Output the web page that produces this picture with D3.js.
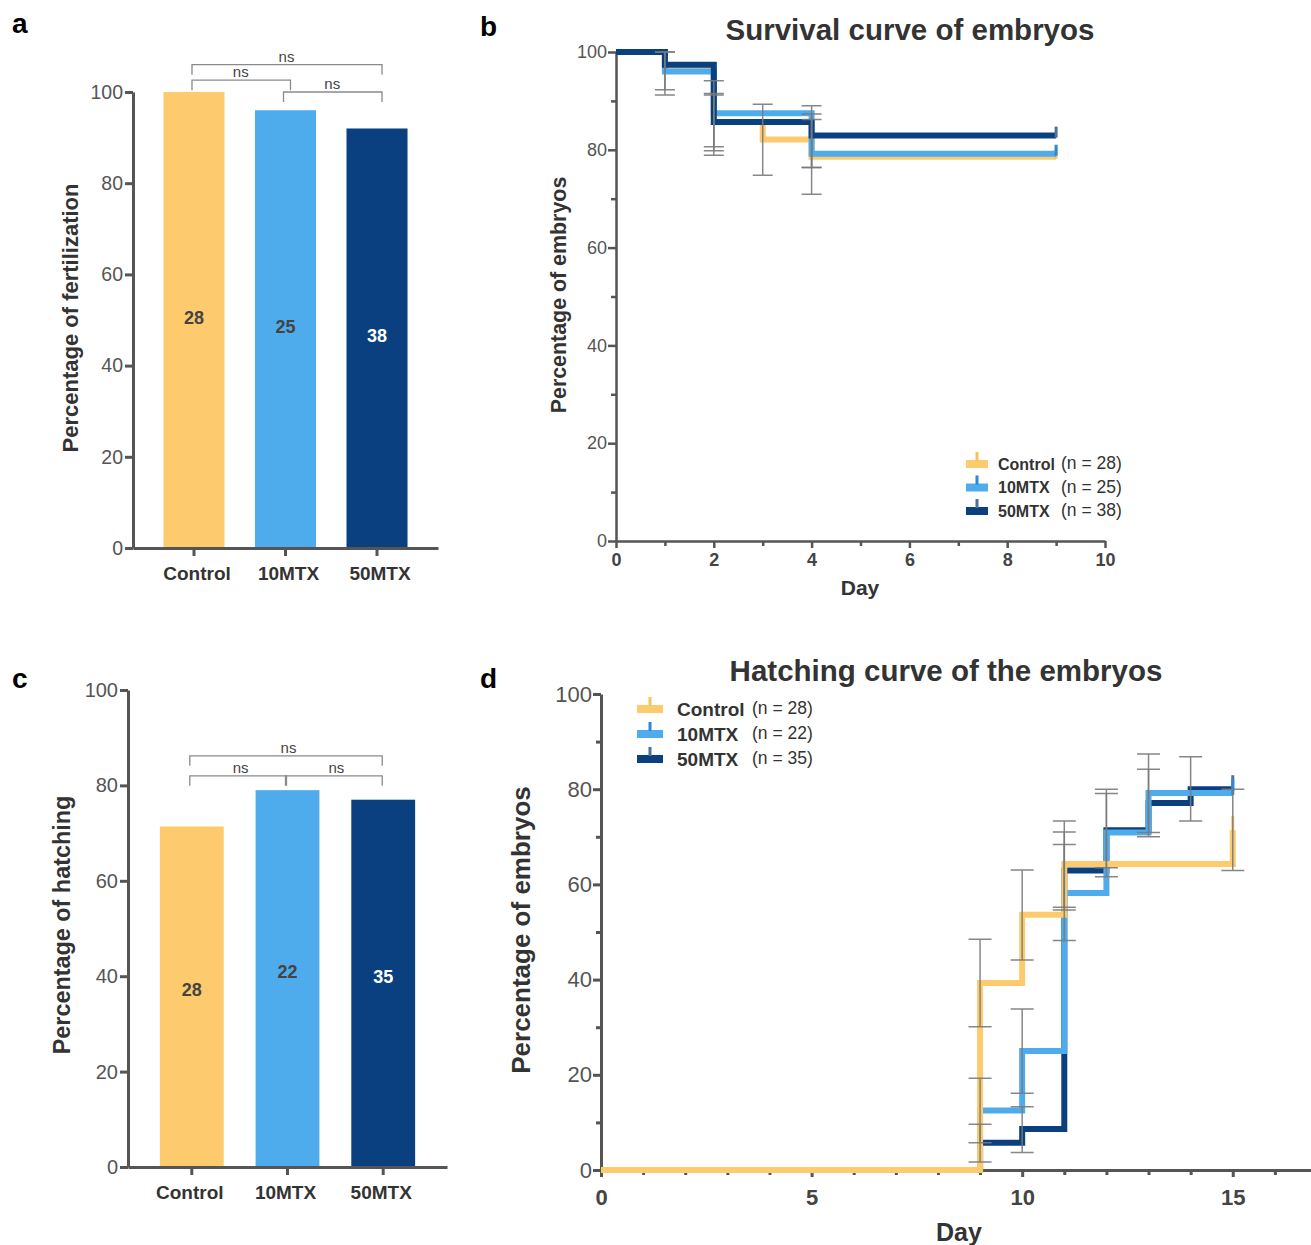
<!DOCTYPE html>
<html>
<head>
<meta charset="utf-8">
<title>Fertilization, survival and hatching of embryos</title>
<script src="https://cdn.jsdelivr.net/npm/d3@7"></script>
<style>
  body { margin: 0; background: #fff; }
  svg { font-family: "Liberation Sans", Arial, sans-serif; }
</style>
</head>
<body>
<svg width="1311" height="1245"></svg>

<script>
    const svg = d3.select("svg");

    // groups and colours
    const groups = ["Control", "10MTX", "50MTX"];
    const groupColors = ["#fdcb6e", "#4eabec", "#0a4080"];
    const censorColors = ["#f7c35f", "#2f86dc", "#4d719d"];

    // panel a: fertilization
    const fertPct = [100, 96, 92];
    const fertN = [28, 25, 38];
    const fertPairs = [[0, 2, 106, "ns"], [0, 1, 102.6, "ns"], [1, 2, 100, "ns"]];

    // panel c: hatching
    const hatchPct = [71.4, 79, 77];
    const hatchN = [28, 22, 35];
    const hatchPairs = [[0, 2, 86.2, "ns"], [0, 1, 82, "ns"], [1, 2, 82, "ns"]];

    // panel b: survival (day, percent)
    const survN = [28, 25, 38];
    const survControl = [[0, 100], [1, 96.4], [2, 85.7], [3, 82.1], [4, 78.6], [9, 78.6]];
    const surv10 = [[0, 100], [1, 96], [2, 87.5], [4, 79.2], [9, 79.2]];
    const surv50 = [[0, 100], [1, 97.4], [2, 85.7], [4, 82.9], [9, 82.9]];
    const survErr = [
        [1, 92.3, 100], [1, 91.2, 100],
        [2, 80.6, 94.1], [2, 79.8, 91.2], [2, 78.9, 91.5],
        [3, 74.8, 89.3],
        [4, 76.4, 89.0], [4, 70.9, 87.3], [4, 76.4, 86.2]
    ];

    // panel d: hatching curve (day, percent)
    const hatchCurveN = [28, 22, 35];
    const hatchControl = [[0, 0], [9, 39.3], [10, 53.6], [11, 64.3], [15, 71.4]];
    const hatch10 = [[0, 0], [9, 12.5], [10, 25], [11, 58.2], [12, 70.9], [13, 79.2], [15, 79.2]];
    const hatch50 = [[0, 0], [9, 5.7], [10, 8.6], [11, 62.9], [12, 71.4], [13, 77.1], [14, 80], [15, 80]];
    const hatchErr = [
        [9, 30.1, 48.5], [9, 5.7, 19.3], [9, 1.7, 9.6],
        [10, 44.1, 63.0], [10, 16.1, 33.8], [10, 3.7, 13.3],
        [11, 55.2, 73.3], [11, 54.6, 71.0], [11, 48.2, 68.4],
        [12, 61.6, 80.0], [12, 63.5, 79.1],
        [13, 70.9, 87.4], [13, 70.0, 84.2],
        [14, 73.3, 86.8],
        [15, 62.9, 80.0]
    ];

    const yTicks = [0, 20, 40, 60, 80, 100];
    const yMinor = [10, 30, 50, 70, 90];

    function panelLetter(txt, x, y) {
        svg.append("text").attr("x", x).attr("y", y).text(txt)
            .attr("font-size", "28px").attr("font-weight", "bold").attr("fill", "#000");
    }

    function styleAxis(g, width, color) {
        g.select(".domain").attr("stroke", color).attr("stroke-width", width);
        g.selectAll(".tick line").attr("stroke", color).attr("stroke-width", width);
    }

    // ---------- bar panels ----------
    function barPanel(cfg) {
        const x = d3.scaleBand().domain(groups).range(cfg.xRange)
            .paddingInner(0.333).paddingOuter(0.333);
        const y = d3.scaleLinear().domain([0, 100]).range(cfg.yRange);
        const g = svg.append("g");

        g.selectAll(".bar").data(cfg.values).enter().append("rect")
            .attr("x", (d, i) => x(groups[i]))
            .attr("y", d => y(d))
            .attr("width", x.bandwidth())
            .attr("height", d => y(0) - y(d))
            .attr("fill", (d, i) => groupColors[i]);

        g.selectAll(".nlab").data(cfg.values).enter().append("text")
            .attr("x", (d, i) => x(groups[i]) + x.bandwidth() / 2)
            .attr("y", d => y(d / 2 + cfg.nShift))
            .attr("dy", "0.35em")
            .attr("text-anchor", "middle")
            .attr("font-size", "18px").attr("font-weight", "bold")
            .attr("fill", (d, i) => i === 2 ? "#fff" : "#444")
            .text((d, i) => cfg.n[i]);

        const ya = g.append("g").attr("transform", `translate(${cfg.xRange[0]},0)`)
            .call(d3.axisLeft(y).tickValues(yTicks).tickSize(8).tickSizeOuter(0).tickPadding(2));
        styleAxis(ya, 3, "#555");
        ya.selectAll("text").attr("font-size", cfg.yFont).attr("fill", "#555");

        const xa = g.append("g").attr("transform", `translate(0,${cfg.yRange[0]})`)
            .call(d3.axisBottom(x).tickSize(8).tickSizeOuter(0).tickPadding(11));
        styleAxis(xa, 3, "#555");
        xa.selectAll("text").attr("font-size", "19px").attr("font-weight", "bold")
            .attr("fill", "#333").attr("dx", cfg.xdx);

        // significance brackets
        const cx = i => x(groups[i]) + x.bandwidth() / 2;
        cfg.pairs.forEach(p => {
            const yy = y(p[2]);
            g.append("path")
                .attr("d", `M${cx(p[0]) + cfg.bl},${yy + 10}V${yy}H${cx(p[1]) + cfg.br}V${yy + 10}`)
                .attr("fill", "none").attr("stroke", "#8a8a8a").attr("stroke-width", 1.3);
            g.append("text").attr("x", (cx(p[0]) + cx(p[1])) / 2 + 1).attr("y", yy - 3)
                .attr("text-anchor", "middle").attr("font-size", "15px").attr("fill", "#444")
                .text(p[3]);
        });

        g.append("text")
            .attr("transform", `translate(${cfg.labelX},${cfg.labelY}) rotate(-90)`)
            .attr("text-anchor", "middle").attr("font-size", cfg.labelFont).attr("font-weight", "bold")
            .attr("fill", "#333").text(cfg.label);
    }

    // ---------- step curve panels ----------
    function kmPanel(cfg) {
        const x = d3.scaleLinear().domain(cfg.xDomain).range(cfg.xRange);
        const y = d3.scaleLinear().domain([0, 100]).range(cfg.yRange);
        const g = svg.append("g");

        const ya = g.append("g").attr("transform", `translate(${cfg.xRange[0]},0)`)
            .call(d3.axisLeft(y).tickValues(yTicks).tickSize(8).tickSizeOuter(0).tickPadding(1));
        styleAxis(ya, cfg.axisW, "#555");
        ya.selectAll("text").attr("font-size", cfg.yFont).attr("fill", "#555");
        const ym = g.append("g").attr("transform", `translate(${cfg.xRange[0]},0)`)
            .call(d3.axisLeft(y).tickValues(yMinor).tickSize(5).tickFormat(""));
        ym.select(".domain").remove();
        ym.selectAll(".tick line").attr("stroke", "#555").attr("stroke-width", cfg.axisW);

        const xa = g.append("g").attr("transform", `translate(0,${cfg.yRange[0]})`)
            .call(d3.axisBottom(x).tickValues(cfg.xTicks).tickSize(7).tickSizeOuter(0).tickPadding(cfg.xPad));
        styleAxis(xa, cfg.axisW, "#555");
        xa.selectAll("text").attr("font-size", cfg.xFont).attr("font-weight", "bold").attr("fill", "#444");
        const xm = g.append("g").attr("transform", `translate(0,${cfg.yRange[0]})`)
            .call(d3.axisBottom(x).tickValues(cfg.xMinor).tickSize(5).tickFormat(""));
        xm.select(".domain").remove();
        xm.selectAll(".tick line").attr("stroke", "#555").attr("stroke-width", cfg.axisW);

        const line = d3.line().x(d => x(d[0])).y(d => y(d[1])).curve(d3.curveStepAfter);
        cfg.order.forEach(i => {
            const pts = cfg.series[i];
            g.append("path").attr("d", line(pts))
                .attr("fill", "none").attr("stroke", groupColors[i])
                .attr("stroke-width", 6).attr("stroke-linejoin", "miter");
            const last = pts[pts.length - 1];
            g.append("line")
                .attr("x1", x(last[0])).attr("x2", x(last[0]))
                .attr("y1", y(last[1]) + 2).attr("y2", y(last[1]) - cfg.censorH)
                .attr("stroke", censorColors[i]).attr("stroke-width", 3);
        });

        // error bars
        const cap = cfg.capW / 2;
        cfg.errors.forEach(e => {
            const ex = x(e[0]);
            g.append("path")
                .attr("d", `M${ex},${y(e[1])}V${y(e[2])}M${ex - cap},${y(e[1])}H${ex + cap}M${ex - cap},${y(e[2])}H${ex + cap}`)
                .attr("fill", "none").attr("stroke", "#7a7a7a").attr("stroke-width", 1.5)
                .attr("opacity", 0.9);
        });

        // legend
        groups.forEach((name, i) => {
            const ly = cfg.legend.y + i * cfg.legend.dy;
            const lx = cfg.legend.x;
            g.append("rect").attr("x", lx).attr("y", ly - 4).attr("width", cfg.legend.w).attr("height", 8)
                .attr("fill", groupColors[i]);
            g.append("rect").attr("x", lx + cfg.legend.w / 2 - 1.5).attr("y", ly - 12)
                .attr("width", 3).attr("height", 9).attr("fill", censorColors[i]);
            g.append("text").attr("x", lx + cfg.legend.w + cfg.legend.gap).attr("y", ly).attr("dy", "0.35em")
                .attr("font-size", cfg.legend.font).attr("font-weight", "bold").attr("fill", "#333")
                .text(name);
            g.append("text").attr("x", cfg.legend.nx).attr("y", ly - 1).attr("dy", "0.35em")
                .attr("font-size", cfg.legend.nFont).attr("fill", "#333")
                .text(`(n = ${cfg.n[i]})`);
        });

        g.append("text").attr("x", cfg.title.x).attr("y", cfg.title.y)
            .attr("text-anchor", "middle").attr("font-size", "29.5px").attr("font-weight", "bold")
            .attr("fill", "#333").text(cfg.title.text);

        g.append("text")
            .attr("transform", `translate(${cfg.labelX},${cfg.labelY}) rotate(-90)`)
            .attr("text-anchor", "middle").attr("font-size", cfg.labelFont).attr("font-weight", "bold")
            .attr("fill", "#333").text("Percentage of embryos");

        g.append("text").attr("x", cfg.dayX).attr("y", cfg.dayY)
            .attr("text-anchor", "middle").attr("font-size", cfg.dayFont).attr("font-weight", "bold")
            .attr("fill", "#333").text("Day");
    }

    // panel a
    barPanel({
        xRange: [133, 438], yRange: [548, 92], values: fertPct, n: fertN, pairs: fertPairs,
        nShift: 0.5, yFont: "19.5px", labelX: 78, labelY: 318, labelFont: "22px", xdx: "3px",
        bl: -2, br: 5, label: "Percentage of fertilization"
    });

    // panel c
    barPanel({
        xRange: [128, 447], yRange: [1167, 690], values: hatchPct, n: hatchN, pairs: hatchPairs,
        nShift: 1.5, yFont: "20px", labelX: 70, labelY: 925, labelFont: "23.4px", xdx: "-2px",
        bl: -2, br: -1, label: "Percentage of hatching"
    });

    // panel b
    kmPanel({
        xDomain: [0, 10], xRange: [616, 1105], yRange: [541, 52],
        xTicks: [0, 2, 4, 6, 8, 10], xMinor: [1, 3, 5, 7, 9], xPad: 5,
        series: [survControl, surv10, surv50], order: [0, 1, 2], errors: survErr, n: survN,
        axisW: 2.5, yFont: "18px", xFont: "18px", capW: 20, censorH: 9,
        legend: { x: 966, y: 464, dy: 23.5, w: 22, gap: 10, font: "16px", nx: 1061, nFont: "17.5px" },
        title: { x: 910, y: 40, text: "Survival curve of embryos" },
        labelX: 566, labelY: 295, labelFont: "21.4px", dayX: 860, dayY: 595, dayFont: "21px"
    });

    // panel d
    kmPanel({
        xDomain: [0, 17], xRange: [601, 1317], yRange: [1170, 694],
        xTicks: [0, 5, 10, 15], xMinor: [1, 2, 3, 4, 6, 7, 8, 9, 11, 12, 13, 14, 16], xPad: 12,
        series: [hatchControl, hatch10, hatch50], order: [2, 1, 0], errors: hatchErr, n: hatchCurveN,
        axisW: 3, yFont: "22px", xFont: "22px", capW: 23, censorH: 14,
        legend: { x: 637, y: 709, dy: 25, w: 26, gap: 14, font: "19px", nx: 752, nFont: "17.5px" },
        title: { x: 946, y: 681, text: "Hatching curve of the embryos" },
        labelX: 530, labelY: 930, labelFont: "26px", dayX: 959, dayY: 1241, dayFont: "25px"
    });

    panelLetter("a", 12, 33);
    panelLetter("b", 480, 36);
    panelLetter("c", 12, 688);
    panelLetter("d", 480, 688);
</script>
</body>
</html>
